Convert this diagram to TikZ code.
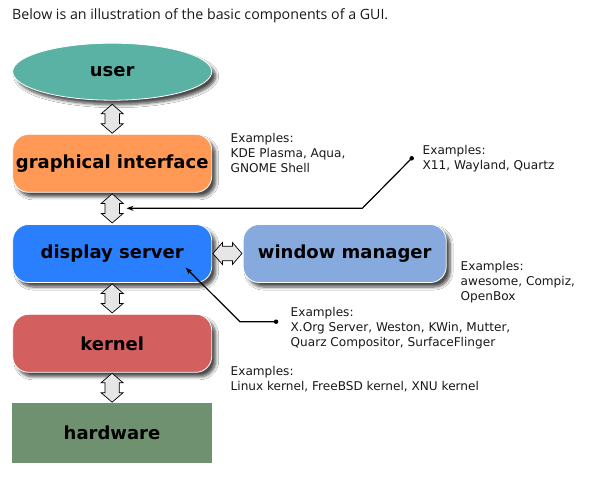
\documentclass[tikz,border=0pt]{standalone}
\usepackage{fontspec}
\setmainfont{DejaVu Sans}
\newfontfamily\titlefont{Open Sans}
\usetikzlibrary{shapes.geometric,shadows.blur,arrows.meta,calc}
\definecolor{cuser}{HTML}{5AB2A4}
\definecolor{cgi}{HTML}{FF9955}
\definecolor{cds}{HTML}{2A7FFF}
\definecolor{cwm}{HTML}{87AADE}
\definecolor{ckern}{HTML}{D45F5F}
\definecolor{chw}{HTML}{6F916F}
\definecolor{carrow}{HTML}{E6E6E6}
\tikzset{
  shad/.style={blur shadow={shadow xshift=4pt, shadow yshift=-4.5pt, shadow blur steps=6, shadow opacity=70, shadow blur radius=3pt}},
  boxlabel/.style={font=\fontsize{18}{20}\selectfont\bfseries, text=black},
  rbox/.style={shad, draw=white, line width=0.8pt, rounded corners=16pt, minimum width=199pt, minimum height=58pt, inner sep=0pt, boxlabel},
  extext/.style={font=\fontsize{12.1}{15}\selectfont, align=left, anchor=base west, inner sep=0pt, text=black!90},
  blockarrow/.style={draw=black, fill=carrow, line width=0.7pt, line join=miter},
  vdbl/.pic={\draw[blockarrow] (0,-14.5)--(11,-5)--(7.2,-5)--(7.2,5)--(11,5)--(0,14.5)--(-11,5)--(-7.2,5)--(-7.2,-5)--(-11,-5)--cycle;},
  pointer/.style={draw=black, line width=1.2pt, -{Stealth[length=7pt,width=5pt]}},
  dotnode/.style={circle, fill=black, inner sep=0pt, minimum size=4.5pt},
}
\begin{document}
\begin{tikzpicture}[x=1pt,y=-1pt]
\path[use as bounding box, fill=white] (0,0) rectangle (604,477);

\node[anchor=base west, inner sep=0pt, font=\titlefont\fontsize{14.2}{16}\selectfont, text=black!90] (title) at (12,19.5) {Below is an illustration of the basic components of a GUI.};

\node[ellipse, shad, draw=white, line width=0.8pt, fill=cuser, minimum width=199pt, minimum height=57pt, inner sep=0pt, boxlabel] (user) at (112.2,71.7) {user};
\node[rbox, fill=cgi] (gi) at (112.2,163.3) {graphical interface};
\node[rbox, fill=cds] (ds) at (112.2,253.5) {display server};
\node[rbox, fill=cwm, minimum width=203pt] (wm) at (344.7,253.5) {window manager};
\node[rbox, fill=ckern] (kern) at (112.2,343.3) {kernel};
\node[draw=none, fill=chw, minimum width=200pt, minimum height=59.7pt, inner sep=0pt, boxlabel] (hw) at (112,432.8) {hardware};

\pic at ($(user.south)!0.5!(gi.north)+(0,1.5)$) {vdbl};
\pic at ($(gi.south)!0.5!(ds.north)$) {vdbl};
\pic at ($(ds.south)!0.5!(kern.north)$) {vdbl};
\pic at ($(kern.south)!0.5!(hw.north)$) {vdbl};
\pic[rotate=90] at ($(ds.east)!0.5!(wm.west)$) {vdbl};

% anchor base = baseline of the last line
\node[extext] (exgi) at (230.5,172.3) {Examples:\\KDE Plasma, Aqua,\\GNOME Shell};
\node[extext] (exds) at (422.5,169.3) {Examples:\\X11, Wayland, Quartz};
\node[extext] (exwm) at (460.5,300.7) {Examples:\\awesome, Compiz,\\OpenBox};
\node[extext] (exwmi) at (290.5,346) {Examples:\\X.Org Server, Weston, KWin, Mutter,\\Quarz Compositor, SurfaceFlinger};
\node[extext] (exk) at (230.5,390) {Examples:\\Linux kernel, FreeBSD kernel, XNU kernel};

\node[dotnode] (d1) at (411.7,158.3) {};
\node[dotnode] (d2) at (276,321.7) {};
\coordinate (p1) at (126.5,208.3);
\coordinate (p2) at (185.7,267.7);
\draw[pointer] (d1.center) -- (362.3,208.3) -- (p1);
\draw[pointer] (d2.center) -- (240,321.7) -- (p2);
\end{tikzpicture}
\end{document}
